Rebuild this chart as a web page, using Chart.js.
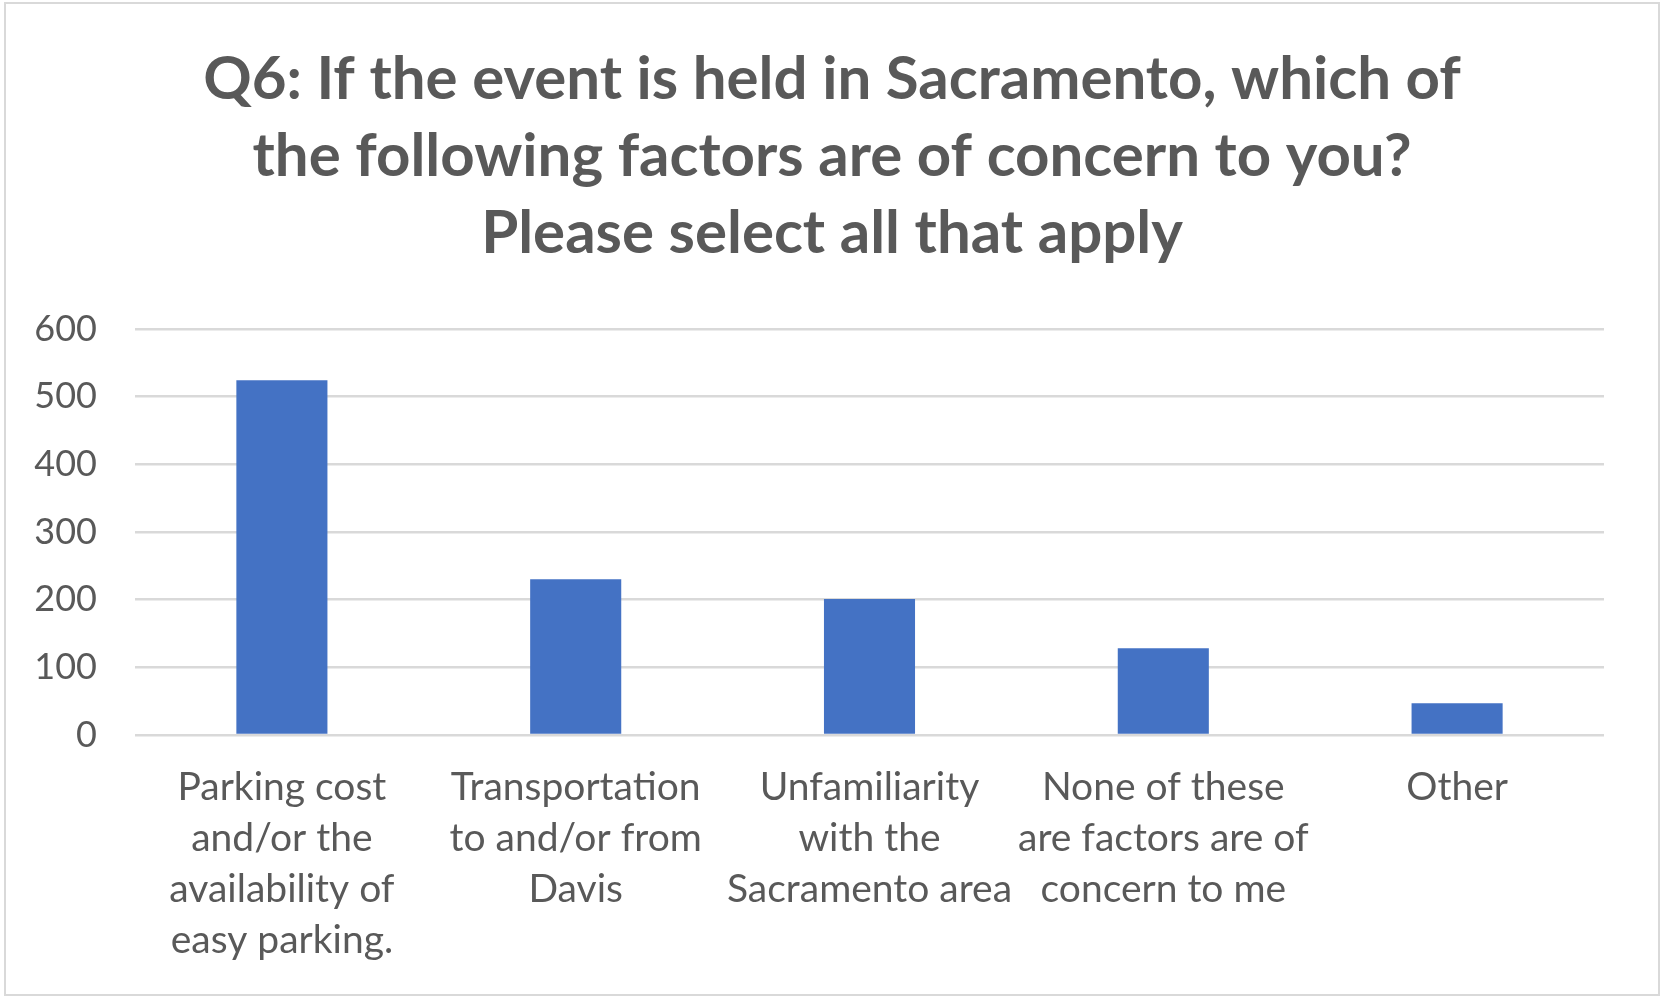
<!DOCTYPE html>
<html>
<head>
<meta charset="utf-8">
<script src="https://cdn.jsdelivr.net/npm/chart.js@4"></script>
<style>
  html, body { margin: 0; padding: 0; background: #fff; }
  #wrap { position: relative; width: 1663px; height: 999px; }
  #frame {
    position: absolute; left: 4px; top: 2px; width: 1656px; height: 994px;
    box-sizing: border-box; border: 2px solid #d9d9d9; pointer-events: none;
  }
  canvas { position: absolute; left: 0; top: 0; }
</style>
</head>
<body>
<div id="wrap">
  <canvas id="myChart" width="1663" height="999"></canvas>
  <div id="frame"></div>
</div>
<script>
const titleLines = [
  "Q6: If the event is held in Sacramento, which of",
  "the following factors are of concern to you?",
  "Please select all that apply",
];

const categories = [
  ["Parking cost", "and/or the", "availability of", "easy parking."],
  ["Transportation", "to and/or from", "Davis"],
  ["Unfamiliarity", "with the", "Sacramento area"],
  ["None of these", "are factors are of", "concern to me"],
  ["Other"],
];

const responses = [524, 230, 201, 128, 47];

const yMin = 0;
const yMax = 600;
const yStep = 100;

const textColor = "#595959";
const gridColor = "#d9d9d9";
const barColor = "#4472c4";

const padLeft = 7;
const padRight = 6;
const padBottom = 6;

const createChart = () => {
  const ctx = document.getElementById("myChart").getContext("2d");
  new Chart(ctx, {
    type: "bar",
    data: {
      labels: categories,
      datasets: [
        {
          data: responses,
          backgroundColor: barColor,
          borderWidth: 0,
          barPercentage: 0.31,
          categoryPercentage: 1,
        },
      ],
    },
    options: {
      responsive: false,
      animation: false,
      devicePixelRatio: 1,
      layout: {
        padding: { top: 0, left: padLeft, right: padRight, bottom: padBottom },
      },
      plugins: {
        legend: { display: false },
        tooltip: { enabled: false },
        title: {
          display: true,
          text: titleLines,
          color: textColor,
          font: { family: "Lato", size: 60, weight: "bold", lineHeight: 1.283 },
          padding: { top: 41, bottom: 57 },
        },
      },
      scales: {
        x: {
          grid: { display: false },
          border: { display: false },
          ticks: {
            color: textColor,
            font: { family: "Lato", size: 39, lineHeight: 1.31 },
            padding: 19,
            maxRotation: 0,
            autoSkip: false,
          },
          afterFit: (scale) => {
            scale.height = 999 - 735 - padBottom;
          },
        },
        y: {
          min: yMin,
          max: yMax,
          grid: { color: gridColor, lineWidth: 2.5, drawTicks: false },
          border: { display: false },
          ticks: {
            stepSize: yStep,
            color: textColor,
            font: { family: "Lato", size: 36 },
            padding: 38,
          },
          afterFit: (scale) => {
            scale.width = 135 - padLeft;
          },
        },
        // empty right-hand spacer so the title stays centred on the page
        yRight: {
          position: "right",
          display: true,
          grid: { display: false },
          border: { display: false },
          ticks: { display: false },
          afterFit: (scale) => {
            scale.width = 1663 - padRight - 1604;
          },
        },
      },
    },
  });
};

createChart();
</script>
</body>
</html>
